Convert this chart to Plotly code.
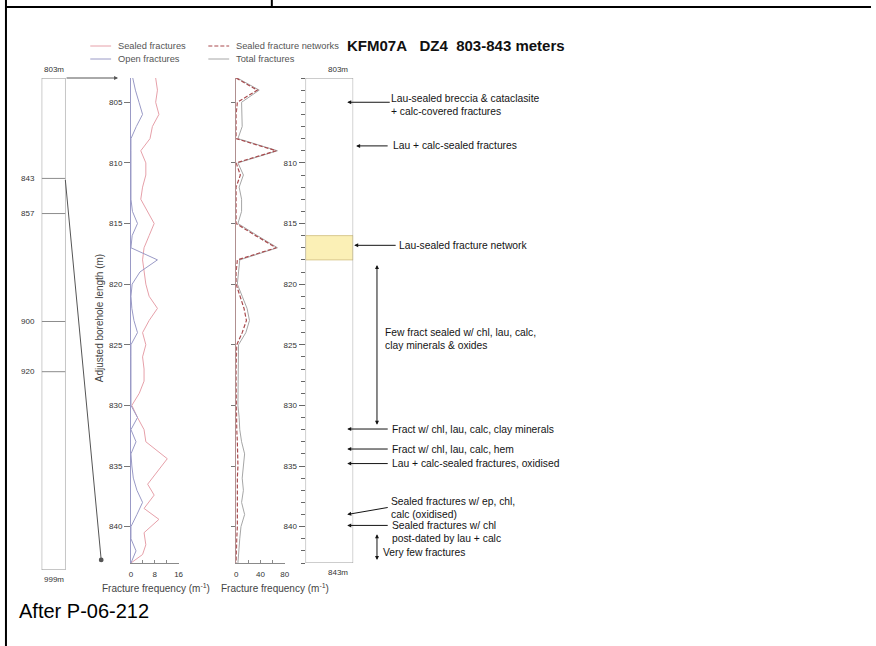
import plotly.graph_objects as go

W, H = 876, 646

# ---- Fracture frequency log, KFM07A 803-843 m -------------------------------
sealed_depth = [803, 804, 805, 806, 807, 808, 809, 810, 811, 812, 813, 814, 815,
                816, 817, 818, 819, 820, 821, 822, 823, 824, 825, 826, 827, 828,
                829, 830, 831, 832, 833, 834.4, 836.5, 837.4, 838.5, 839.4,
                840.5, 841.5, 842.3, 843]
sealed_freq = [8.3, 8.9, 8.3, 9.4, 7.2, 6.4, 3.3, 5.0, 5.0, 3.9, 3.3, 5.6, 7.8,
               6.1, 4.4, 3.9, 4.4, 5.0, 6.1, 8.9, 6.1, 3.9, 5.0, 3.9, 4.4, 4.4,
               2.8, 0.3, 2.2, 4.4, 5.0, 12.2, 5.6, 7.8, 4.4, 9.4,
               4.4, 5.0, 3.9, 0.0]

open_depth = list(range(803, 844))
open_freq = [0.6, 1.5, 2.7, 3.9, 1.8, 0, 0, 0, 0, 0, 0, 0.5, 2.2, 0.4, 0, 8.9,
             3.0, 0.4, 0, 0.3, 1.0, 2.2, 0, 0, 0, 0, 0, 0, 2.2, 0, 1.7, 0, 0.3,
             0.8, 2.0, 3.9, 2.0, 0, 0, 1.7, 0]

total_depth = list(range(803, 844))
total_freq = [2, 38, 9, 10, 10, 3, 68, 3, 12, 5, 9, 9, 3, 35, 68, 6, 4, 2, 10,
              18, 22, 16, 4, 4, 3, 3, 3, 3, 5, 6, 9, 14, 12, 10, 12, 9, 14, 8,
              6, 5, 3]

network_depth = list(range(803, 844))
network_freq = [0, 35, 2, 0, 0, 0, 66, 0, 7, 0, 0, 0, 0, 32, 66, 2, 0, 0, 6,
                13, 17, 10, 1, 0, 0, 0, 0, 0, 1, 1, 2, 3, 3, 2, 2, 2, 3, 2, 1,
                1, 0]

# whole-borehole overview and the detailed section
overview_range = [803, 999]
overview_marks = [843, 857, 900, 920]
section_range = [803, 843]
network_zone = [816, 818]

depth_ticks = [805, 810, 815, 820, 825, 830, 835, 840]
column_ticks = [810, 815, 820, 825, 830, 835, 840]

# point notes along the core column
note_texts = [
    "Lau-sealed breccia & cataclasite<br>+ calc-covered fractures",
    "Lau + calc-sealed fractures",
    "Lau-sealed fracture network",
    "Fract w/ chl, lau, calc, clay minerals",
    "Fract w/ chl, lau, calc, hem",
    "Lau + calc-sealed fractures, oxidised",
    "Sealed fractures w/ ep, chl,<br>calc (oxidised)",
    "Sealed fractures w/ chl<br>post-dated by lau + calc",
]
note_depths = [805.0, 808.6, 816.8, 831.95, 833.6, 834.8, 839.0, 839.9]
note_text_depths = [805.2, 808.6, 816.8, 831.95, 833.6, 834.8, 838.5, 840.45]
note_tail_depths = [805.0, 808.6, 816.8, 831.95, 833.6, 834.8, 838.4, 839.9]

# interval notes (double arrows)
interval_texts = ["Few fract sealed w/ chl, lau, calc,<br>clay minerals & oxides",
                  "Very few fractures"]
interval_tops = [818.3, 840.5]
interval_bottoms = [831.6, 842.75]
interval_text_depths = [824.5, 842.15]

# ---- layout geometry (pixels) -----------------------------------------------
TOP, BOT = 78, 563
OV_BOT = 570
P1 = (130, 178)
P2 = (236, 285)
COL = (306, 354)
OV = (40, 64)

note_head_px = [348, 357, 355, 348, 348, 348, 348, 348]
note_tail_px = [392, 390, 398, 390, 390, 390, 390, 390]
note_text_px = [390, 392, 398, 391, 391, 391, 390, 391]
interval_arrow_px = [378, 378]
interval_text_px = [384, 382]


def fx(p):
    return p / W


def fy(p):
    return 1 - p / H


YDOM = [fy(BOT), fy(TOP)]
FONT = "Arial, Liberation Sans, sans-serif"
INK = "#141414"
TICKF = dict(family=FONT, size=8, color="#333")

C_SEALED = "#e6a0a9"
C_OPEN = "#9a9ac6"
C_NET = "#a8494c"
C_TOTAL = "#a6a6a6"

fig = go.Figure()

fig.add_trace(go.Scatter(x=sealed_freq, y=sealed_depth, xaxis="x", yaxis="y",
                         mode="lines", line=dict(color=C_SEALED, width=1)))
fig.add_trace(go.Scatter(x=open_freq, y=open_depth, xaxis="x", yaxis="y",
                         mode="lines", line=dict(color=C_OPEN, width=1)))
fig.add_trace(go.Scatter(x=total_freq, y=total_depth, xaxis="x2", yaxis="y2",
                         mode="lines", line=dict(color=C_TOTAL, width=1)))
fig.add_trace(go.Scatter(x=network_freq, y=network_depth, xaxis="x2", yaxis="y2",
                         mode="lines",
                         line=dict(color=C_NET, width=1.2, dash="4px,2px")))
# anchors for the core column and the overview column
fig.add_trace(go.Scatter(x=[0, 1], y=section_range, xaxis="x3", yaxis="y3",
                         mode="markers", marker=dict(opacity=0), hoverinfo="skip"))
fig.add_trace(go.Scatter(x=[0, 1], y=overview_range, xaxis="x4", yaxis="y4",
                         mode="markers", marker=dict(opacity=0), hoverinfo="skip"))

common_x = dict(showgrid=False, zeroline=False, showline=True, linecolor="#8a8a8a",
                linewidth=1, ticks="inside", ticklen=3, tickcolor="#8a8a8a",
                tickfont=TICKF, ticklabelstandoff=3, fixedrange=True)
common_y = dict(domain=YDOM, range=[section_range[1], section_range[0]],
                showgrid=False, zeroline=False, fixedrange=True)

fig.update_layout(
    width=W, height=H, margin=dict(l=0, r=0, t=0, b=0), autosize=False,
    paper_bgcolor="white", plot_bgcolor="white", showlegend=False,
    xaxis=dict(domain=[fx(P1[0]), fx(P1[1])], range=[0, 16], anchor="y",
               tickvals=[0, 8, 16],
               minor=dict(ticks="inside", dtick=4, ticklen=3, tickcolor="#8a8a8a"),
               **common_x),
    yaxis=dict(anchor="x", showline=True, linecolor=C_OPEN, linewidth=1,
               ticks="outside", ticklen=6, tickcolor="#777", tickvals=depth_ticks,
               tickfont=TICKF, **common_y),
    xaxis2=dict(domain=[fx(P2[0]), fx(P2[1])], range=[0, 80], anchor="y2",
                tickvals=[0, 40, 80],
                minor=dict(ticks="inside", dtick=20, ticklen=3, tickcolor="#8a8a8a"),
                **common_x),
    yaxis2=dict(anchor="x2", showline=True, linecolor="#b09090", linewidth=1,
                ticks="outside", ticklen=4, tickcolor="#777", tickvals=depth_ticks,
                showticklabels=False, **common_y),
    xaxis3=dict(domain=[fx(COL[0]), fx(COL[1])], range=[0, 1], anchor="y3",
                visible=False, fixedrange=True),
    yaxis3=dict(anchor="x3", showline=False, ticks="outside", ticklen=6,
                tickcolor="#666", tickvals=column_ticks, tickfont=TICKF,
                minor=dict(ticks="outside", dtick=1, ticklen=4, tickcolor="#666"),
                **common_y),
    xaxis4=dict(domain=[fx(OV[0]), fx(OV[1])], range=[0, 1], anchor="y4",
                visible=False, fixedrange=True),
    yaxis4=dict(domain=[fy(OV_BOT), fy(TOP)],
                range=[overview_range[1], overview_range[0]],
                anchor="x4", visible=False, fixedrange=True),
)

shapes = []
ann = []

# outer frame
shapes += [
    dict(type="line", xref="paper", yref="paper", x0=fx(4), x1=fx(4), y0=0, y1=1,
         line=dict(color="black", width=2)),
    dict(type="line", xref="paper", yref="paper", x0=fx(4), x1=1, y0=fy(7), y1=fy(7),
         line=dict(color="black", width=2)),
    dict(type="line", xref="paper", yref="paper", x0=fx(272), x1=fx(272), y0=fy(7), y1=1,
         line=dict(color="black", width=2)),
]

# overview column
shapes.append(dict(type="rect", xref="x4", yref="y4", x0=0, x1=1,
                   y0=overview_range[0], y1=overview_range[1],
                   line=dict(color="#8c8c8c", width=1)))
for d in overview_marks:
    shapes.append(dict(type="line", xref="x4", yref="y4", x0=0, x1=1, y0=d, y1=d,
                       line=dict(color="#8c8c8c", width=1)))
    ann.append(dict(xref="paper", yref="y4", x=fx(OV[0] - 5), y=d, text=str(d),
                    showarrow=False, xanchor="right", yanchor="middle", font=TICKF))
ann.append(dict(xref="paper", yref="y4", x=fx(sum(OV) / 2), y=overview_range[0],
                text=f"{overview_range[0]}m", showarrow=False, xanchor="center",
                yanchor="bottom", yshift=2, font=TICKF))
ann.append(dict(xref="paper", yref="y4", x=fx(sum(OV) / 2), y=overview_range[1],
                text=f"{overview_range[1]}m", showarrow=False, xanchor="center",
                yanchor="top", yshift=-3, font=TICKF))


# links from the overview to the detailed section
def ov_px(d):
    return TOP + (d - overview_range[0]) / (overview_range[1] - overview_range[0]) * (OV_BOT - TOP)


def sec_px(d):
    return TOP + (d - section_range[0]) / (section_range[1] - section_range[0]) * (BOT - TOP)


ann.append(dict(xref="paper", yref="y", x=fx(117), y=section_range[0], text="",
                showarrow=True, axref="pixel", ayref="pixel",
                ax=OV[1] - 117, ay=ov_px(section_range[0]) - sec_px(section_range[0]),
                arrowhead=2, arrowsize=0.8, arrowwidth=1, arrowcolor="#555"))
ann.append(dict(xref="paper", yref="y", x=fx(100), y=section_range[1] - 0.25, text="",
                showarrow=True, axref="pixel", ayref="pixel",
                ax=OV[1] - 100, ay=ov_px(section_range[1]) - sec_px(section_range[1] - 0.25),
                arrowhead=6, arrowsize=1.2, arrowwidth=1, arrowcolor="#555"))

# core column
shapes.append(dict(type="rect", xref="x3", yref="y3", x0=0, x1=1,
                   y0=network_zone[0], y1=network_zone[1], fillcolor="#fbf0b6",
                   line=dict(color="#d9c98f", width=1), layer="below"))
shapes.append(dict(type="rect", xref="x3", yref="y3", x0=0, x1=1,
                   y0=section_range[0], y1=section_range[1],
                   line=dict(color="#9a9a9a", width=1)))
ann.append(dict(xref="paper", yref="y3", x=fx(339), y=section_range[0],
                text=f"{section_range[0]}m", showarrow=False, xanchor="center",
                yanchor="bottom", yshift=2, font=TICKF))
ann.append(dict(xref="paper", yref="y3", x=fx(339), y=section_range[1],
                text=f"{section_range[1]}m", showarrow=False, xanchor="center",
                yanchor="top", yshift=-3, font=TICKF))

NOTEF = dict(family=FONT, size=10.3, color=INK)
ARROW = dict(arrowhead=2, arrowsize=0.8, arrowwidth=1, arrowcolor=INK)
for t, d, td, tl, hx, tx, xx in zip(note_texts, note_depths, note_text_depths,
                                     note_tail_depths, note_head_px, note_tail_px,
                                     note_text_px):
    ann.append(dict(xref="paper", yref="y3", x=fx(hx), y=d, text="", showarrow=True,
                    axref="pixel", ayref="y3", ax=tx - hx, ay=tl, **ARROW))
    ann.append(dict(xref="paper", yref="y3", x=fx(xx), y=td, text=t, showarrow=False,
                    xanchor="left", yanchor="middle", align="left", font=NOTEF))

for t, a, b, td, ax_, xx in zip(interval_texts, interval_tops, interval_bottoms,
                                interval_text_depths, interval_arrow_px, interval_text_px):
    ann.append(dict(xref="paper", yref="y3", x=fx(ax_), y=b, text="", showarrow=True,
                    axref="pixel", ayref="y3", ax=0, ay=a, arrowside="end+start",
                    **ARROW))
    ann.append(dict(xref="paper", yref="y3", x=fx(xx), y=td, text=t, showarrow=False,
                    xanchor="left", yanchor="middle", align="left", font=NOTEF))

# axis titles
LABF = dict(family=FONT, size=10, color="#444")
ann.append(dict(xref="paper", yref="paper", x=fx(98), y=fy(318),
                text="Adjusted borehole length (m)", textangle=-90, showarrow=False,
                xanchor="center", yanchor="middle", font=LABF))
ann.append(dict(xref="paper", yref="paper", x=fx(155), y=fy(588),
                text="Fracture frequency (m<sup>-1</sup>)", showarrow=False,
                xanchor="center", yanchor="middle", font=LABF))
ann.append(dict(xref="paper", yref="paper", x=fx(275), y=fy(588),
                text="Fracture frequency (m<sup>-1</sup>)", showarrow=False,
                xanchor="center", yanchor="middle", font=LABF))

# legend
LEGF = dict(family=FONT, size=9.3, color="#555")
legend_items = [
    ("Sealed fractures", C_SEALED, "solid", 89, 46),
    ("Open fractures", C_OPEN, "solid", 89, 59),
    ("Sealed fracture networks", C_NET, "4px,2px", 208, 46),
    ("Total fractures", C_TOTAL, "solid", 208, 59),
]
for name, c, dash, x0, y0 in legend_items:
    shapes.append(dict(type="line", xref="paper", yref="paper", x0=fx(x0), x1=fx(x0 + 21),
                       y0=fy(y0), y1=fy(y0), line=dict(color=c, width=1, dash=dash)))
    ann.append(dict(xref="paper", yref="paper", x=fx(x0 + 26), y=fy(y0), text=name,
                    showarrow=False, xanchor="left", yanchor="middle", font=LEGF))

# title and source
ann.append(dict(xref="paper", yref="paper", x=fx(346), y=fy(45),
                text="<b>KFM07A\u00a0\u00a0\u00a0DZ4\u00a0\u00a0803-843 meters</b>",
                showarrow=False, xanchor="left", yanchor="middle",
                font=dict(family=FONT, size=15, color="#111")))
ann.append(dict(xref="paper", yref="paper", x=fx(15), y=fy(611), text="After P-06-212",
                showarrow=False, xanchor="left", yanchor="middle",
                font=dict(family=FONT, size=20, color="black")))

fig.update_layout(shapes=shapes, annotations=ann)
fig.write_html("out.html")
